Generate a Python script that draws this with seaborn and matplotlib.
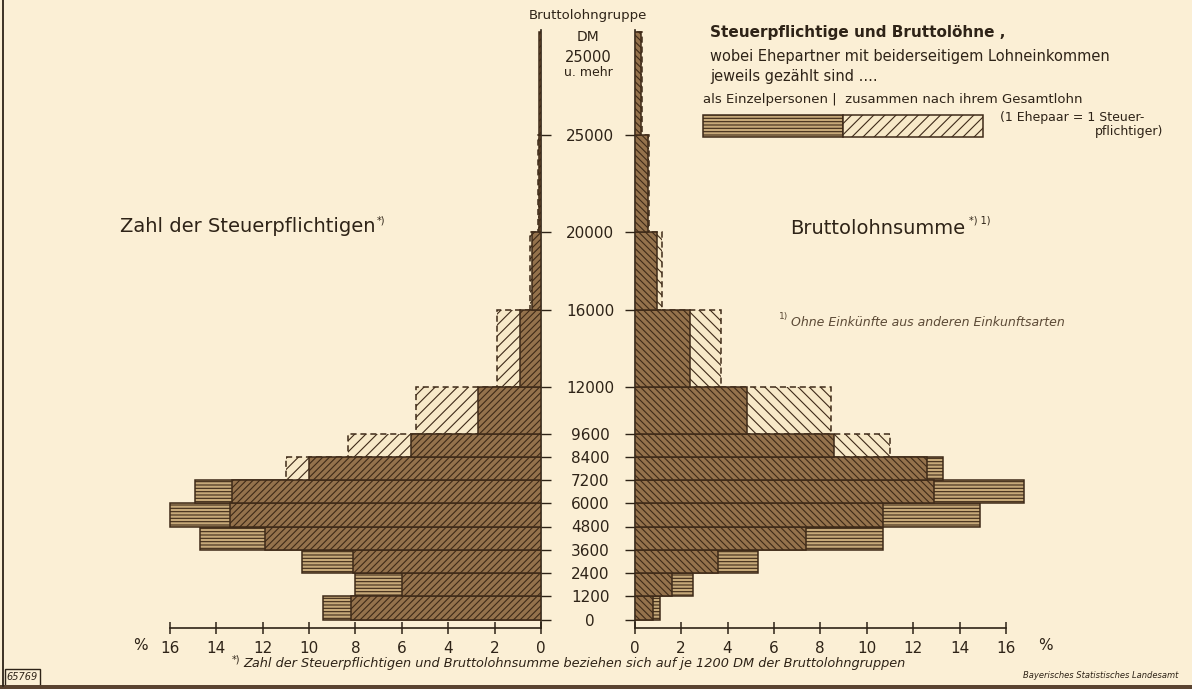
import numpy as np
import seaborn as sns
import matplotlib
matplotlib.use("Agg")
import matplotlib.pyplot as plt
from matplotlib.patches import Rectangle
from matplotlib.lines import Line2D

# ---------------- data ----------------
# income group boundaries (DM); last edge = drawn height of "25000 u. mehr"
group_edges = [0, 1200, 2400, 3600, 4800, 6000, 7200, 8400, 9600,
               12000, 16000, 20000, 25000, 30300]
tick_labels = ["0", "1200", "2400", "3600", "4800", "6000", "7200", "8400",
               "9600", "12000", "16000", "20000", "25000"]

# Zahl der Steuerpflichtigen (% per 1200 DM)
steuer_einzel = [9.4, 8.0, 10.3, 14.7, 16.0, 14.9, 10.0, 5.6, 2.7, 0.9, 0.37, 0.1, 0.08]
steuer_zusammen = [8.2, 6.0, 8.1, 11.9, 13.4, 13.3, 11.0, 8.3, 5.4, 1.9, 0.47, 0.15, 0.08]

# Bruttolohnsumme (% per 1200 DM)
lohn_einzel = [1.07, 2.5, 5.3, 10.7, 14.9, 16.8, 13.3, 8.6, 4.85, 2.4, 0.98, 0.56, 0.29]
lohn_zusammen = [0.78, 1.6, 3.6, 7.4, 10.7, 12.9, 12.6, 11.0, 8.45, 3.7, 1.18, 0.62, 0.3]

x_ticks = list(range(0, 17, 2))

# ---------------- style ----------------
sns.set_theme(style="ticks")
plt.rcParams["font.family"] = ["DejaVu Sans"]
plt.rcParams["hatch.linewidth"] = 0.8

BG = "#fbefd5"
INK = "#2e2317"
DARK = "#94724c"
EDGE = "#3e2a18"
BROWN = "#c6a979"
LIGHT = "#f7e9c8"

W, H = 1192, 689
fig = plt.figure(figsize=(W / 100, H / 100), dpi=100, facecolor=BG)


def fx(px):
    return px / W


def fy(py):
    return 1 - py / H


ax_bottom_px, ax_top_px = 628, 30
ylo = -(ax_bottom_px - 619.5) / 23.25 * 1200
yhi = (619.5 - ax_top_px) / 23.25 * 1200

UNIT = 371.2 / 16          # pixels per percent
L_MAX, R_MAX = 16.4, 17.3  # axis extents (percent)
l_left_px = 541 - UNIT * L_MAX
ax_l = fig.add_axes([fx(l_left_px), fy(ax_bottom_px), (UNIT * L_MAX) / W,
                     (ax_bottom_px - ax_top_px) / H])
ax_r = fig.add_axes([fx(634.7), fy(ax_bottom_px), (UNIT * R_MAX) / W,
                     (ax_bottom_px - ax_top_px) / H])

mids = [(a + b) / 2 for a, b in zip(group_edges[:-1], group_edges[1:])]


def panel(ax, einzel, zusammen, dark_hatch, light_hatch):
    e = np.array(einzel)
    z = np.array(zusammen)
    common = np.minimum(e, z)
    ext_e = np.where(e > z, e, 0.0)
    ext_z = np.where(z > e, z, 0.0)
    # "als Einzelpersonen" surplus (horizontal lines)
    sns.histplot(y=mids, weights=ext_e, bins=group_edges, ax=ax, element="bars",
                 fill=True, alpha=1, facecolor=BROWN, edgecolor=EDGE,
                 hatch="-----", linewidth=1.1, zorder=2)
    # "zusammen" surplus (light hatch, dashed outline)
    sns.histplot(y=mids, weights=ext_z, bins=group_edges, ax=ax, element="bars",
                 fill=True, alpha=1, facecolor=LIGHT, edgecolor=EDGE,
                 hatch=light_hatch, linewidth=1.1, linestyle=(0, (4, 2.5)), zorder=2)
    # common part (dark hatch)
    sns.histplot(y=mids, weights=common, bins=group_edges, ax=ax, element="bars",
                 fill=True, alpha=1, facecolor=DARK, edgecolor=EDGE,
                 hatch=dark_hatch, linewidth=1.1, zorder=3)
    ax.set_xlabel("")
    ax.set_ylabel("")
    ax.set_facecolor("none")
    ax.set_ylim(ylo, yhi)
    ax.set_xticks(x_ticks)
    ax.tick_params(axis="x", direction="inout", length=9, width=1.1, pad=5,
                   labelsize=11, colors=INK, bottom=True)
    for s in ax.spines.values():
        s.set_color(INK)
        s.set_linewidth(1.2)
    ax.spines["top"].set_visible(False)
    ax.spines["bottom"].set_bounds(0, 16)


panel(ax_l, steuer_einzel, steuer_zusammen, "/////", "///")
panel(ax_r, lohn_einzel, lohn_zusammen, "\\\\\\\\\\", "\\\\\\")

ax_l.set_xlim(L_MAX, 0)
ax_r.set_xlim(0, R_MAX)

ax_l.spines["left"].set_visible(False)
ax_r.spines["right"].set_visible(False)

ax_l.yaxis.tick_right()
ax_l.set_yticks(group_edges[:-1], labels=tick_labels)
ax_l.tick_params(axis="y", direction="out", length=7, width=1.0, pad=28.5,
                 labelsize=11, colors=INK, right=True, left=False)
for lbl in ax_l.get_yticklabels():
    lbl.set_ha("center")

ax_r.set_yticks(group_edges[:-1])
ax_r.set_yticklabels([])
ax_r.tick_params(axis="y", direction="out", length=7, width=1.0, colors=INK,
                 left=True, right=False)

# ---------------- texts ----------------
fig.text(fx(140), fy(645), "%", ha="center", va="center", fontsize=11, color=INK)
fig.text(fx(1045), fy(645), "%", ha="center", va="center", fontsize=11, color=INK)

fig.text(fx(588), fy(15), "Bruttolohngruppe", ha="center", va="center", fontsize=9.5, color=INK)
fig.text(fx(588), fy(37), "DM", ha="center", va="center", fontsize=10, color=INK)
fig.text(fx(588), fy(58), "25000", ha="center", va="center", fontsize=10.5, color=INK)
fig.text(fx(588), fy(72), "u. mehr", ha="center", va="center", fontsize=9, color=INK)

t1 = fig.text(fx(120), fy(227), "Zahl der Steuerpflichtigen", ha="left", va="center",
              fontsize=14, color=INK)
ax_l.annotate("*)", xy=(1.0, 0.85), xycoords=t1, xytext=(1, 0), textcoords="offset points",
              fontsize=7, color=INK, va="center", ha="left", annotation_clip=False)

t2 = fig.text(fx(790), fy(228), "Bruttolohnsumme", ha="left", va="center",
              fontsize=14, color=INK)
ax_r.annotate("*) 1)", xy=(1.0, 0.9), xycoords=t2, xytext=(3, 0), textcoords="offset points",
              fontsize=7, color=INK, va="center", ha="left", annotation_clip=False)

fig.text(fx(791), fy(323), "Ohne Einkünfte aus anderen Einkunftsarten", ha="left",
         va="center", fontsize=9, style="italic", color="#5c4a36")
fig.text(fx(779), fy(316), "1)", ha="left", va="center", fontsize=6.5, color="#5c4a36")

fig.text(fx(710), fy(32), "Steuerpflichtige und Bruttolöhne ,", ha="left", va="center",
         fontsize=11, fontweight="bold", color=INK)
fig.text(fx(710), fy(56), "wobei Ehepartner mit beiderseitigem Lohneinkommen", ha="left",
         va="center", fontsize=10.5, color=INK)
fig.text(fx(710), fy(77), "jeweils gezählt sind ....", ha="left", va="center",
         fontsize=10.5, color=INK)
fig.text(fx(703), fy(100), "als Einzelpersonen |  zusammen nach ihrem Gesamtlohn", ha="left",
         va="center", fontsize=9.5, color=INK)
fig.text(fx(1000), fy(118), "(1 Ehepaar = 1 Steuer-", ha="left", va="center",
         fontsize=9, color=INK)
fig.text(fx(1163), fy(131), "pflichtiger)", ha="right", va="center", fontsize=9, color=INK)

# legend swatches
fig.add_artist(Rectangle((fx(703), fy(137)), fx(843) - fx(703), 22 / H, transform=fig.transFigure,
                         facecolor=BROWN, edgecolor=EDGE, hatch="-----", linewidth=1.1))
fig.add_artist(Rectangle((fx(843), fy(137)), fx(983) - fx(843), 22 / H, transform=fig.transFigure,
                         facecolor=LIGHT, edgecolor=EDGE, hatch="///", linewidth=1.1))

# footnote
fig.text(fx(232), fy(659), "*)", ha="left", va="center", fontsize=7, color=INK)
fig.text(fx(243), fy(663), "Zahl der Steuerpflichtigen und Bruttolohnsumme beziehen sich auf je "
         "1200 DM der Bruttolohngruppen", ha="left", va="center", fontsize=9.3,
         style="italic", color=INK)
fig.text(fx(1178), fy(675), "Bayerisches Statistisches Landesamt", ha="right", va="center",
         fontsize=6, style="italic", color=INK)

# sheet number box
fig.add_artist(Rectangle((fx(5), fy(686)), fx(40) - fx(5), 17 / H, transform=fig.transFigure,
                         facecolor="none", edgecolor=INK, linewidth=1.0))
fig.text(fx(22.5), fy(677.5), "65769", ha="center", va="center", fontsize=7,
         style="italic", color=INK)

# frame
fig.add_artist(Line2D([fx(3), fx(3)], [fy(686), 1.0], transform=fig.transFigure,
                      color=INK, linewidth=1.3))
fig.add_artist(Rectangle((0, 0), 1, 4 / H, transform=fig.transFigure,
                         facecolor="#5a4330", edgecolor="none"))

fig.savefig("out.png", dpi=100, facecolor=BG)
